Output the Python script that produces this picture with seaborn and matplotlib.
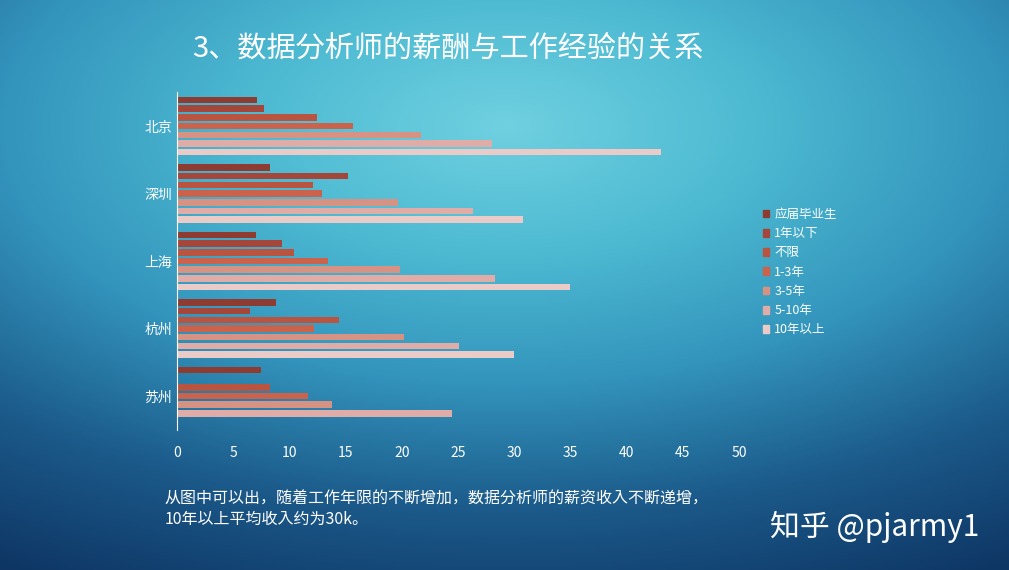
import numpy as np
import pandas as pd
import matplotlib
matplotlib.use("Agg")
import matplotlib.pyplot as plt
from matplotlib import font_manager
from matplotlib.colors import LinearSegmentedColormap
from matplotlib.patches import Patch
import seaborn as sns

cjk = [f.name for f in font_manager.fontManager.ttflist if "CJK" in f.name]
plt.rcParams["font.family"] = "sans-serif"
plt.rcParams["font.sans-serif"] = ["Noto Sans CJK SC", "Noto Sans CJK JP"] + cjk + ["DejaVu Sans"]

cities = ["北京", "深圳", "上海", "杭州", "苏州"]
levels = ["应届毕业生", "1年以下", "不限", "1-3年", "3-5年", "5-10年", "10年以上"]
# salary (k) per city, one list per experience level
grad = [7.1, 8.3, 7.0, 8.8, 7.5]
under1 = [7.7, 15.2, 9.3, 6.5, np.nan]
anyexp = [12.5, 12.1, 10.4, 14.4, 8.3]
y1_3 = [15.7, 12.9, 13.4, 12.2, 11.7]
y3_5 = [21.7, 19.7, 19.8, 20.2, 13.8]
y5_10 = [28.0, 26.3, 28.3, 25.1, 24.5]
over10 = [43.1, 30.8, 35.0, 30.0, np.nan]
xticks = list(range(0, 55, 5))

colors = ["#8E3B31", "#A4473A", "#B85440", "#CB624B", "#D69283", "#DFACA8", "#EACBC8"]

series = [grad, under1, anyexp, y1_3, y3_5, y5_10, over10]
df = pd.DataFrame([(c, lv, v) for lv, vals in zip(levels, series)
                   for c, v in zip(cities, vals)], columns=["city", "level", "salary"])

fig = plt.figure(figsize=(10.09, 5.7), dpi=100)

# background gradient
bg = fig.add_axes([0, 0, 1, 1])
yy, xx = np.mgrid[0:1:300j, 0:1:500j]
d = np.sqrt(((xx - 0.5) * 1.0) ** 2 + ((yy - 0.22) * 1.1) ** 2)
cmap = LinearSegmentedColormap.from_list("bg", ["#6FD0E0", "#4DBAD2", "#3394BC", "#1B5A8A", "#0E3564"])
bg.imshow(d, cmap=cmap, aspect="auto", extent=[0, 1, 0, 1], origin="upper")
bg.axis("off")

ax = fig.add_axes([0.1754, 0.246, 0.557, 0.592])
ax.patch.set_alpha(0)
sns.barplot(data=df, y="city", x="salary", hue="level", hue_order=levels,
            palette=colors, orient="h", width=0.9, gap=0.25, ax=ax,
            legend=False, saturation=1)
ax.set_xlim(0, 50)
ax.set_xticks(xticks)
ax.set_xlabel("")
ax.set_ylabel("")
for s in ["top", "right", "bottom"]:
    ax.spines[s].set_visible(False)
ax.spines["left"].set_color("white")
ax.tick_params(colors="white", length=0, labelsize=10)
ax.tick_params(axis="x", pad=12)

handles = [Patch(color=c) for c in colors]
leg = fig.legend(handles, levels, loc="upper left", bbox_to_anchor=(0.745, 0.655),
                 frameon=False, fontsize=9, handlelength=0.5, handleheight=0.6,
                 handletextpad=0.4, labelspacing=0.5)
for t in leg.get_texts():
    t.set_color("white")

fig.text(0.19, 0.9, "3、数据分析师的薪酬与工作经验的关系", color="white", fontsize=21)
fig.text(0.163, 0.08, "从图中可以出，随着工作年限的不断增加，数据分析师的薪资收入不断递增，\n10年以上平均收入约为30k。",
         color="white", fontsize=11.5, linespacing=1.25)
fig.text(0.763, 0.06, "知乎 @pjarmy1", color="white", fontsize=21.5)

fig.savefig("out.png", dpi=100)
